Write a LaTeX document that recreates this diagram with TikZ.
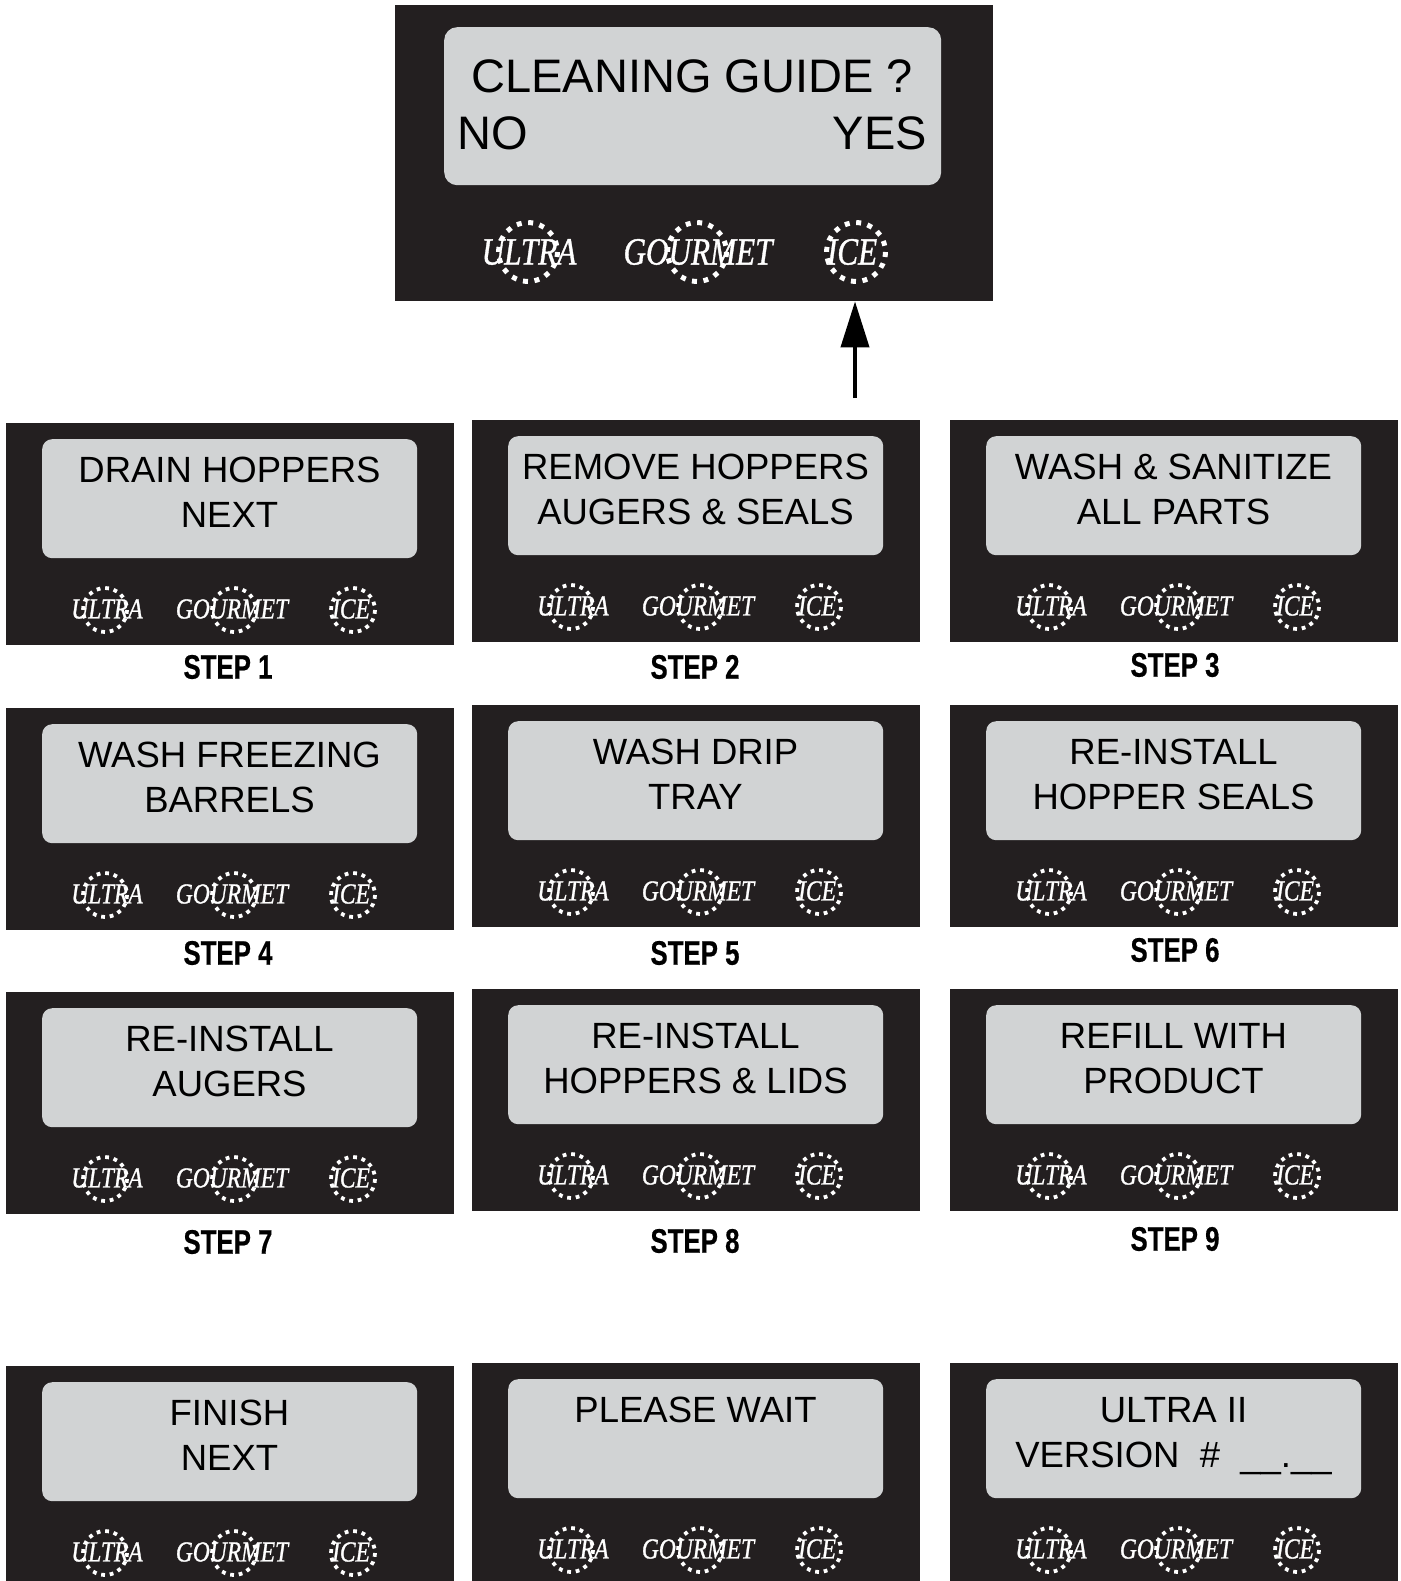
\documentclass[tikz,border=0pt]{standalone}
\usepackage{fontspec}
\usepackage{graphicx}
\setmainfont{Liberation Sans}
\newfontfamily\logofont{Liberation Serif}[FakeBold=1.1]
\newfontfamily\stepfont{Liberation Sans}[FakeBold=0.6]
\usetikzlibrary{arrows.meta}

\definecolor{panelblack}{RGB}{35,31,32}
\definecolor{screengray}{RGB}{209,211,212}

\tikzset{
  panelbox/.style={fill=panelblack, inner sep=0pt, anchor=north west, minimum width=448pt, minimum height=222pt},
  screenbox/.style={fill=screengray, rounded corners=10pt, inner sep=0pt, anchor=north west, minimum width=375pt, minimum height=119pt},
  screentext/.style={anchor=base, inner sep=0pt, font=\fontsize{36.5}{44}\selectfont},
  logo/.style={white, inner sep=0pt, font=\logofont\itshape\fontsize{29}{29}\selectfont},
  dotring/.style={white, line width=3.8pt, dash pattern=on 3.8pt off 4.84pt},
  steplabel/.style={inner sep=0pt, font=\stepfont\bfseries\fontsize{34}{34}\selectfont},
}

\begin{document}
\begin{tikzpicture}[x=1pt, y=-1pt]
\useasboundingbox (0,0) rectangle (1400,1581);
\clip (0,0) rectangle (1400,1581);

% top panel
\node[panelbox, minimum width=598pt, minimum height=296pt] (guide) at (395,5) {};
\node[screenbox, minimum width=497pt, minimum height=158pt, rounded corners=13pt] (guidescreen) at (444,27) {};
\node[screentext, font=\fontsize{47}{47}\selectfont] (guideq) at (692,93) {CLEANING GUIDE ?};
\node[screentext, anchor=base west, font=\fontsize{47}{47}\selectfont] (guideno) at (457,150) {NO};
\node[screentext, anchor=base east, font=\fontsize{47}{47}\selectfont] (guideyes) at (927,150) {YES};

\node[logo, font=\logofont\itshape\fontsize{38.5}{38.5}\selectfont] (gu) at (529,252) {\scalebox{0.81}[1]{ULTRA}};
\node[logo, font=\logofont\itshape\fontsize{38.5}{38.5}\selectfont] (gg) at (698,252) {\scalebox{0.81}[1]{GOURMET}};
\node[logo, font=\logofont\itshape\fontsize{38.5}{38.5}\selectfont] (gi) at (852,252) {\scalebox{0.81}[1]{ICE}};
\draw[dotring, line width=5pt, dash pattern=on 5pt off 6.55pt] (528,252) circle[radius=29.4];
\draw[dotring, line width=5pt, dash pattern=on 5pt off 6.55pt] (697,252) circle[radius=29.4];
\draw[dotring, line width=5pt, dash pattern=on 5pt off 6.55pt] (856,252) circle[radius=29.4];

% YES arrow
\coordinate (yesfoot) at (855,398);
\draw[line width=4pt, -{Triangle[length=46pt,width=28pt]}] (yesfoot) -- (yesfoot |- guide.south);

% step panels
\foreach \n/\x/\y/\la/\lb in {
  1/6/423/DRAIN HOPPERS/NEXT,
  2/472/420/REMOVE HOPPERS/AUGERS \& SEALS,
  3/950/420/WASH \& SANITIZE/ALL PARTS,
  4/6/708/WASH FREEZING/BARRELS,
  5/472/705/WASH DRIP/TRAY,
  6/950/705/RE-INSTALL/HOPPER SEALS,
  7/6/992/RE-INSTALL/AUGERS,
  8/472/989/RE-INSTALL/HOPPERS \& LIDS,
  9/950/989/REFILL WITH/PRODUCT,
  10/6/1366/FINISH/NEXT,
  11/472/1363/PLEASE WAIT/{},
  12/950/1363/ULTRA II/VERSION~~\#~~\_\_.\_\_}{
  \node[panelbox] (p\n) at (\x,\y) {};
  \node[screenbox] (s\n) at ([shift={(36,16)}]p\n.north west) {};
  \node[screentext] (a\n) at ([shift={(187.5,43.5)}]s\n.north west) {\la};
  \node[screentext] (b\n) at ([shift={(187.5,88)}]s\n.north west) {\lb};
  \node[logo] (u\n) at ([shift={(101,186)}]p\n.north west) {\scalebox{0.81}[1]{ULTRA}};
  \node[logo] (g\n) at ([shift={(226,186)}]p\n.north west) {\scalebox{0.81}[1]{GOURMET}};
  \node[logo] (i\n) at ([shift={(345,186)}]p\n.north west) {\scalebox{0.81}[1]{ICE}};
  \draw[dotring] ([shift={(99,187)}]p\n.north west) circle[radius=22];
  \draw[dotring] ([shift={(228,187)}]p\n.north west) circle[radius=22];
  \draw[dotring] ([shift={(347,187)}]p\n.north west) circle[radius=22];
}

% step labels
\foreach \n/\x/\y in {1/228/667, 2/695/667, 3/1175/665, 4/228/953, 5/695/953, 6/1175/950, 7/228/1242, 8/695/1241, 9/1175/1239}
  \node[steplabel] (l\n) at (\x,\y) {\scalebox{0.76}[1]{STEP \n}};

\end{tikzpicture}
\end{document}
